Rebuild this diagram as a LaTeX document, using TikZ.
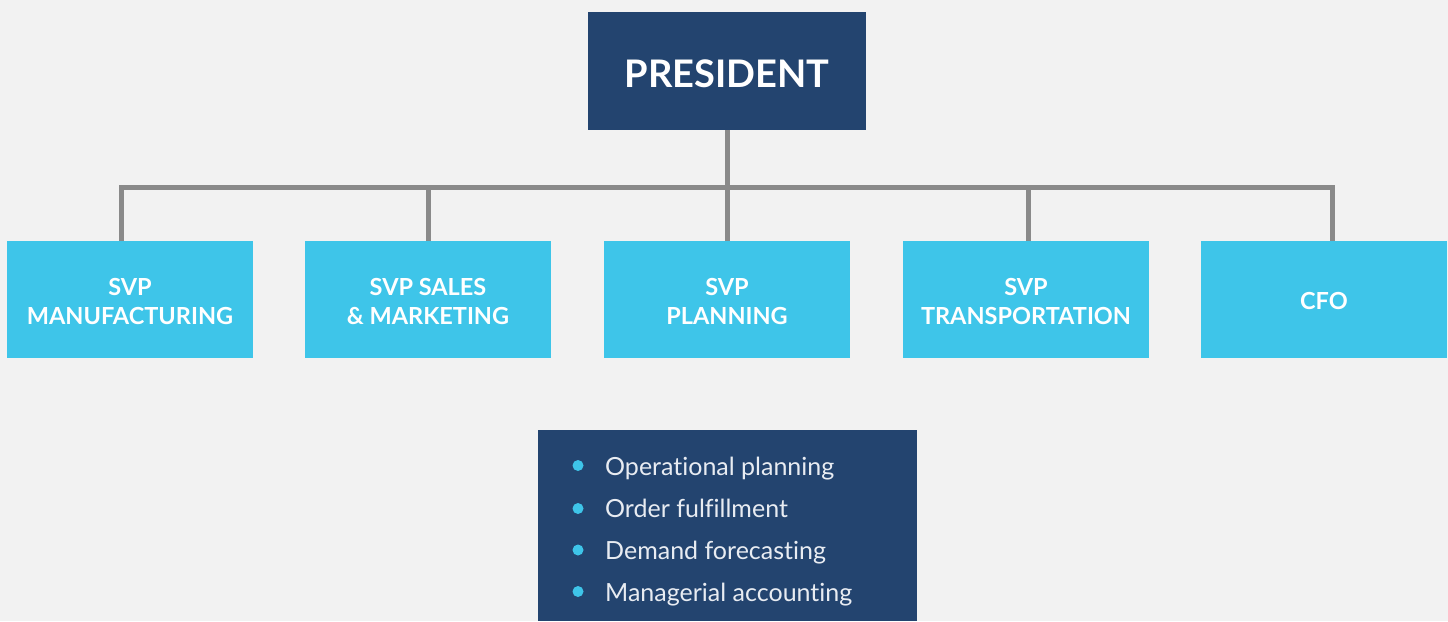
\documentclass[tikz,border=0pt]{standalone}
\usepackage{fontspec}
\setmainfont{Lato}[Ligatures={NoCommon,NoContextual}]
\definecolor{bgc}{HTML}{F2F2F2}
\definecolor{navy}{HTML}{23446F}
\definecolor{sky}{HTML}{3EC5E9}
\definecolor{linec}{HTML}{8A8A8A}
\definecolor{itemtext}{HTML}{E8ECF2}
\tikzset{
  presbox/.style={fill=navy, text=white, inner sep=0pt, minimum width=278pt, minimum height=118pt, font=\bfseries\fontsize{38}{40}\selectfont},
  childbox/.style={fill=sky, text=white, inner sep=0pt, minimum width=246pt, minimum height=117pt, align=center, font=\bfseries\fontsize{23.5}{29}\selectfont},
  childtext/.style={text=white, inner sep=0pt, align=center, font=\bfseries\fontsize{23.5}{29}\selectfont},
  listbox/.style={fill=navy, inner sep=0pt, minimum width=379pt, minimum height=191pt, anchor=north west},
  conn/.style={draw=linec, line width=5pt},
  dotb/.style={circle, fill=sky, inner sep=0pt, minimum size=11pt},
  itemt/.style={anchor=base west, inner sep=0pt, text=itemtext, font=\fontsize{25}{28}\selectfont}
}
\begin{document}
\begin{tikzpicture}[x=1pt,y=-1pt]
\fill[bgc] (0,0) rectangle (1448,621);
\useasboundingbox (0,0) rectangle (1448,621);

\coordinate (bar) at (727,187.5);

\node[presbox] (pres) at (727,71) {};
\node[text=white, inner sep=0pt, font=\bfseries\fontsize{38}{40}\selectfont] (prestext) at (727,74) {PRESIDENT};

\node[childbox] (c1) at (130,299.5) {};
\node[childbox] (c2) at (428,299.5) {};
\node[childbox] (c3) at (727,299.5) {};
\node[childbox] (c4) at (1026,299.5) {};
\node[childbox] (c5) at (1324,299.5) {};
\node[childtext] (c1t) at (130,302) {SVP\\MANUFACTURING};
\node[childtext] (c2t) at (428,302) {SVP SALES\\\& MARKETING};
\node[childtext] (c3t) at (727,302) {SVP\\PLANNING};
\node[childtext] (c4t) at (1026,302) {SVP\\TRANSPORTATION};
\node[childtext] (c5t) at (1324,301) {CFO};

\draw[conn] ([xshift=-8.5pt]c1.north) -- ([xshift=-8.5pt]c1.north |- bar) -- ([xshift=8pt]c5.north |- bar) -- ([xshift=8pt]c5.north);
\draw[conn] (c2.north) -- (c2.north |- bar);
\draw[conn] ([xshift=2pt]c4.north) -- ([xshift=2pt]c4.north |- bar);
\draw[conn] (pres.south) -- (c3.north);

\node[listbox] (list) at (538,430) {};
\node[dotb] (d1) at (578,465.5) {};
\node[dotb] (d2) at (578,508.5) {};
\node[dotb] (d3) at (578,550) {};
\node[dotb] (d4) at (578,591.5) {};
\node[itemt] (t1) at (605,475.5) {Operational planning};
\node[itemt] (t2) at (605,517.5) {Order fulfillment};
\node[itemt] (t3) at (605,559.5) {Demand forecasting};
\node[itemt] (t4) at (605,601.5) {Managerial accounting};
\end{tikzpicture}
\end{document}
